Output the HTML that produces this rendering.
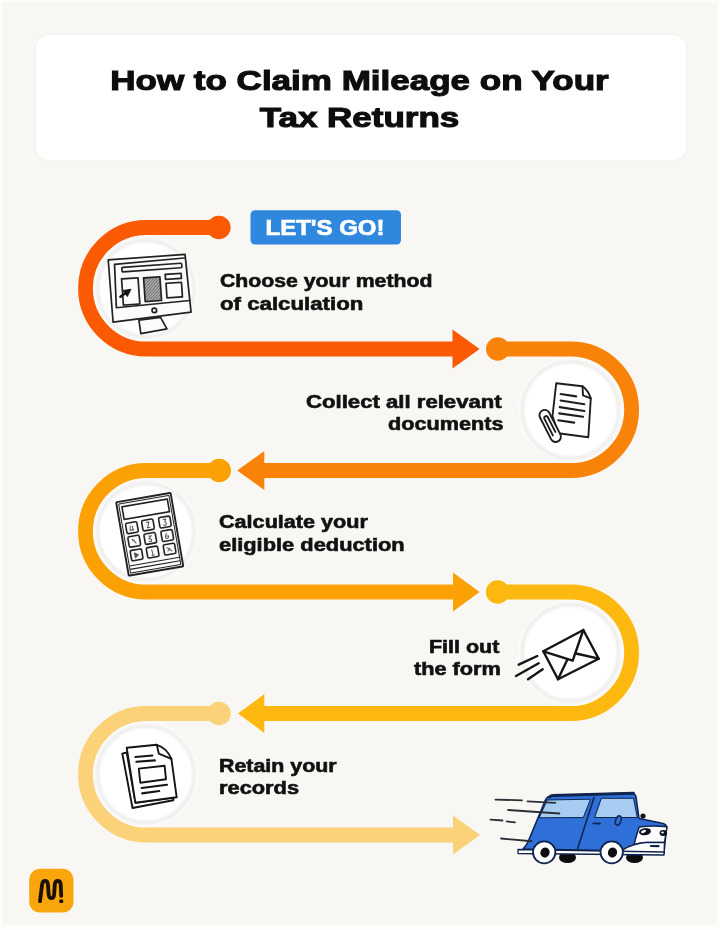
<!DOCTYPE html>
<html><head><meta charset="utf-8">
<style>
html,body{margin:0;padding:0;}
body{width:720px;height:930px;background:#fdfdfb;position:relative;overflow:hidden;font-family:"Liberation Sans",sans-serif;}
#bg{position:absolute;left:2px;top:2px;width:715px;height:923px;background:#f8f7f4;}
#title{position:absolute;left:36px;top:34.5px;width:650px;height:125px;background:#ffffff;border-radius:13px;box-shadow:0 0 3px rgba(0,0,0,0.05);}
.t{position:absolute;font-weight:bold;color:#111;white-space:nowrap;}
.ln{font-size:18px;line-height:20px;transform-origin:0 0;-webkit-text-stroke:0.6px #111;}
.l{transform-origin:0 0;}
.r{transform-origin:100% 0;text-align:right;}
#svg{position:absolute;left:0;top:0;}
</style></head>
<body>
<div id="bg"></div>
<div id="title"></div>
<div class="t" style="left:0;top:63px;width:719px;text-align:center;font-size:28px;line-height:36.7px;transform:scaleX(1.25);-webkit-text-stroke:1.1px #0d0d0d;color:#0d0d0d;">How to Claim Mileage on Your<br>Tax Returns</div>

<svg id="svg" width="720" height="930" viewBox="0 0 720 930">
  <!-- icon circles -->
  <defs><filter id="soft" x="-20%" y="-20%" width="140%" height="140%"><feGaussianBlur stdDeviation="1.3"/></filter></defs>
  <g fill="#fbfaf8">
    <circle cx="145.8" cy="288.5" r="53"/>
    <circle cx="570.5" cy="410" r="53"/>
    <circle cx="145.8" cy="531.5" r="53"/>
    <circle cx="570.5" cy="652.8" r="53"/>
    <circle cx="145.8" cy="774.3" r="53"/>
  </g>
  <g fill="#ffffff" stroke="#eeeeed" stroke-width="3.5" filter="url(#soft)">
    <circle cx="145.8" cy="288.5" r="48"/>
    <circle cx="570.5" cy="410" r="48"/>
    <circle cx="145.8" cy="531.5" r="48"/>
    <circle cx="570.5" cy="652.8" r="48"/>
    <circle cx="145.8" cy="774.3" r="48"/>
  </g>
  <!-- path segments -->
  <g fill="none" stroke-width="14.8">
    <path stroke="#fb5902" d="M218.8 227.5 H146.25 A60.75 60.75 0 0 0 146.25 349 H454"/>
    <path stroke="#f98208" d="M497.8 349 H570.85 A60.75 60.75 0 0 1 570.85 470.5 H262"/>
    <path stroke="#fca104" d="M219.2 470.5 H146.25 A60.75 60.75 0 0 0 146.25 592 H454"/>
    <path stroke="#fdb90f" d="M497.6 592 H570.85 A60.75 60.75 0 0 1 570.85 713.5 H262"/>
    <path stroke="#fbd277" d="M219 713.5 H146.25 A60.75 60.75 0 0 0 146.25 835 H454"/>
  </g>
  <g>
    <circle cx="218.8" cy="227.5" r="11.8" fill="#fb5902"/>
    <polygon points="452.5,329.5 479.6,349 452.5,368.5" fill="#fb5902"/>
    <circle cx="497.8" cy="349" r="11.8" fill="#f98208"/>
    <polygon points="264.3,451 237.2,470.5 264.3,490" fill="#f98208"/>
    <circle cx="219.2" cy="470.5" r="11.8" fill="#fca104"/>
    <polygon points="453,572.5 479.6,592 453,611.5" fill="#fca104"/>
    <circle cx="497.6" cy="592" r="11.8" fill="#fdb90f"/>
    <polygon points="264.3,694 238,713.5 264.3,733" fill="#fdb90f"/>
    <circle cx="219" cy="713.5" r="11.8" fill="#fbd277"/>
    <polygon points="453,815.5 480,835 453,854.5" fill="#fbd277"/>
  </g>

  <!-- ICON 1: monitor -->
  <defs>
    <pattern id="hatch" width="2.2" height="2.2" patternUnits="userSpaceOnUse" patternTransform="rotate(45)">
      <rect width="2.2" height="2.2" fill="#aaaaaa"/>
      <line x1="0" y1="0" x2="0" y2="2.2" stroke="#4a4a4a" stroke-width="1"/>
    </pattern>
  </defs>
  <g transform="translate(108.2 259.8) rotate(-4)" fill="none" stroke="#222" stroke-width="1.7" stroke-linejoin="round" stroke-linecap="round">
    <path d="M0 0 L77 0 L79 58 L0.5 62.5 Z" fill="#fbfbfb"/>
    <path d="M6 5 L76 3.5 M6 5 L4.8 48.4 L78.5 46.3"/>
    <rect x="13" y="8.5" width="60" height="4.5" rx="1"/>
    <rect x="12" y="20" width="16.5" height="26.3"/>
    <rect x="34" y="20.5" width="16.4" height="23.8" fill="url(#hatch)"/>
    <rect x="55.8" y="18.6" width="16" height="5"/>
    <rect x="56" y="27.5" width="15.5" height="14.6"/>
    <circle cx="42.5" cy="53.7" r="2.3"/>
    <path d="M26.4 62.3 L48.2 61 L53.8 73 L27.4 76 Z" fill="#fbfbfb"/>
    <path d="M20.5 31 L16.5 37.7 L12.7 31.7 Z" fill="#111" stroke-width="1.2"/><path d="M14.6 34.7 L9.6 37.8" stroke="#111" stroke-width="2.4"/>
  </g>

  <!-- ICON 2: document + clip -->
  <g fill="none" stroke="#1e1e1e" stroke-width="1.9" stroke-linejoin="round" stroke-linecap="round">
    <path d="M556.2 383.3 L582.5 386.2 Q588 390 590.8 398.3 L588.3 437.2 L558.2 433.3 L552.5 416 Z" fill="#ffffff"/>
    <path d="M582.5 386.2 L583 395.4 L590.8 398.3" />
    <path d="M560.6 394 L576.2 396.4 M560.6 400.5 L584.4 404.2 M559.7 407.1 L584.4 411 M559.2 413.4 L583 416.8 M558.2 420.2 L574.2 422.6" stroke-width="2.1"/>
    <g transform="translate(542.3 410.5) rotate(-27)">
      <path d="M5.2 14 V29.5 A5.2 5.2 0 0 1 -5.2 29.5 V5.2 A5.2 5.2 0 0 1 5.2 5.2 V14" fill="#fff"/>
      <path d="M-1.9 27 V8.5 A1.9 1.9 0 0 1 1.9 8.5 V25"/>
    </g>
  </g>

  <!-- ICON 3: calculator -->
  <g transform="translate(116.1 502.3) rotate(-9.8)" fill="none" stroke="#222" stroke-width="1.9" stroke-linejoin="round">
    <rect x="0" y="0" width="55.3" height="74.5" rx="1" fill="#fbfbfb"/>
    <rect x="2.2" y="2.2" width="51" height="70" rx="0.5" stroke-width="1"/>
    <rect x="5" y="5.5" width="46" height="12.8" fill="#fff" stroke-width="1.6"/>
    <g stroke-width="1.6">
      <rect x="5.5" y="22.5" width="11.5" height="10.5" rx="1.5"/>
      <rect x="21.8" y="22.5" width="11.5" height="10.5" rx="1.5"/>
      <rect x="39" y="22.5" width="11.5" height="10.5" rx="1.5"/>
      <rect x="5.5" y="36.2" width="11.5" height="10.5" rx="1.5"/>
      <rect x="21.8" y="36.2" width="11.5" height="10.5" rx="1.5"/>
      <rect x="39" y="36.2" width="11.5" height="10.5" rx="1.5"/>
      <rect x="5.5" y="50" width="11.5" height="10.5" rx="1.5"/>
      <rect x="21.8" y="50" width="11.5" height="10.5" rx="1.5"/>
      <rect x="39" y="50" width="11.5" height="10.5" rx="1.5"/>
    </g>
    <path d="M2.5 65 H53 M2.5 68.5 H53" stroke-width="1.1"/>
    <g stroke="#555" stroke-width="1">
      <path d="M10 25.5 L9 30 H13 M12 26 V31"/>
      <path d="M26 25 H29 L26.5 30.5 H29.5"/>
      <path d="M43 25 H46 L44.5 27.5 Q47 28.5 45 31 L42.5 30.5"/>
      <path d="M9.5 39 L13 44 M9.5 40.5 H12"/>
      <path d="M26 39 H29 L26 41.5 Q30 42 28 44.5 L25.5 44"/>
      <path d="M45 39 Q42 41 43 44 Q46 45 46 42 L43.5 42"/>
      <path d="M9.5 53 L13 55.5 L9.5 58 Z" fill="#555"/>
      <path d="M27 52.5 L27.5 58.5 M26 58.5 H29"/>
      <path d="M42 53 L47 57.5 M42.5 57 L45.5 54"/>
    </g>
  </g>

  <!-- ICON 4: envelope -->
  <g fill="none" stroke="#151515" stroke-width="2.4" stroke-linejoin="round" stroke-linecap="round">
    <path d="M543.3 651.3 L583.3 630 L598.7 658.7 L558 679.3 Z" fill="#fff"/>
    <path d="M543.3 651.3 L572.7 660.7 L583.3 630"/>
    <path d="M558 679.3 L567.5 659.3 M598.7 658.7 L576 653.5"/>
    <path d="M518.7 664.7 L537.3 656 M516 676 L538.7 663.3 M528 679.3 L542.7 669.3"/>
  </g>

  <!-- ICON 5: records -->
  <g fill="none" stroke="#151515" stroke-width="1.9" stroke-linejoin="round" stroke-linecap="round">
    <path d="M122.3 753.6 L126.7 752.5 L135.4 802.7 L173.3 797.5 L173.3 800.2 L132.5 808 Z" fill="#fff"/>
    <path d="M126.7 747.7 L156.8 744.8 Q167 748 171.4 758.9 L176.7 797.3 L135.4 802.7 Z" fill="#fff"/>
    <path d="M156.8 744.8 L158.8 753.6 L171.4 758.9"/>
    <path d="M135.4 757 L152.4 755.5 M136.4 761.8 L154.9 760.4 M141.7 788 L167 784.7 M142.2 793.4 L159.2 791" stroke-width="2.1"/>
    <path d="M138.8 768.6 L164.6 765.7 L166 779.3 L140.3 782.7 Z"/>
  </g>


  <!-- CAR -->
  <g stroke-linecap="round" stroke-linejoin="round">
    <ellipse cx="567.5" cy="857.5" rx="8.5" ry="5.5" fill="#0c0c10"/>
    <ellipse cx="634.5" cy="857.5" rx="8.5" ry="5.5" fill="#0c0c10"/>
    <path d="M552 795.5 Q547 796 545 801 L528 842 Q526 846 523 849 L664 851.5 L666.5 828 Q667 824 661 823 L639 818.5 L636 797 Q635 793 631 793 Z" fill="#2e6fd8" stroke="#10244f" stroke-width="1.6"/>
    <path d="M550 797 Q551 795.6 553 795.6 L633.3 793.3" stroke="#10244f" stroke-width="3" fill="none"/>
    <path d="M547.5 800 L590.5 799.2 L583.3 817.5 L539.5 817.8 Z" fill="#a6ccf2" stroke="#10244f" stroke-width="1"/>
    <path d="M601.7 798.3 L633.5 798.3 L637.3 817.5 L595 817.5 Z" fill="#a6ccf2" stroke="#10244f" stroke-width="1"/>
    <path d="M594 797.5 L577.5 849" stroke="#10244f" stroke-width="1.6" fill="none"/>
    <path d="M593.3 823.3 L600 823.6" stroke="#10244f" stroke-width="1.8" fill="none"/>
    <ellipse cx="618.3" cy="820.5" rx="2.6" ry="4.8" transform="rotate(20 618.3 820.5)" fill="#2e6fd8" stroke="#10244f" stroke-width="1.5"/>
    <circle cx="643" cy="816" r="2.6" fill="#10141f"/>
    <path d="M639.2 827 Q652 825 667 826.7 L664.5 842.5 L645.8 842.5 Q640 843 634 844.8 Q636 836 639.2 827 Z" fill="#ffffff" stroke="#10244f" stroke-width="1.5"/>
    <path d="M622.5 850 Q628 846.5 634 844.8 Q640 842.8 645.8 842.5 L664.5 842.5 L664.2 853.5 L622.5 854 Z" fill="#ffffff" stroke="#10244f" stroke-width="1.5"/>
    <path d="M651 846 L658.5 846.2" stroke="#10244f" stroke-width="2.2" fill="none"/>
    <ellipse cx="645" cy="831.7" rx="6" ry="3.6" transform="rotate(-8 645 831.7)" fill="#0d1220"/>
    <ellipse cx="643.5" cy="831.5" rx="2.6" ry="1.4" transform="rotate(-20 643.5 831.5)" fill="#ffffff"/>
    <ellipse cx="663.3" cy="832.9" rx="3.8" ry="3" fill="#0d1220"/>
    <ellipse cx="662.5" cy="832.6" rx="1.4" ry="1" fill="#ffffff"/>
    <path d="M518 849.5 L664 852 L664 855 L518 853.5 Z" fill="#ffffff" stroke="#10244f" stroke-width="1.3"/>
    <ellipse cx="544.2" cy="852.3" rx="11.2" ry="11" fill="#ffffff" stroke="#10244f" stroke-width="1.8"/>
    <ellipse cx="545" cy="852.5" rx="4.6" ry="5" transform="rotate(20 545 852.5)" fill="#0d0d12"/>
    <ellipse cx="611.7" cy="852.3" rx="11.2" ry="11" fill="#ffffff" stroke="#10244f" stroke-width="1.8"/>
    <ellipse cx="612.5" cy="852.5" rx="4.6" ry="5" transform="rotate(20 612.5 852.5)" fill="#0d0d12"/>
    <g fill="none" stroke="#2b2e36" stroke-width="1.8">
      <path d="M495.5 799.6 L522 800.3 M527.5 801.4 L555.3 802.8"/>
      <path d="M508 810 L559.4 813.5"/>
      <path d="M490.5 819.7 L502.5 820.5 M506.7 821.4 L515 822.4"/>
      <path d="M501 838.5 L531.7 841.25"/>
    </g>
  </g>
  <!-- badge -->
  <rect x="250.5" y="210.2" width="150.5" height="34.4" rx="4.5" fill="#2f88dd"/>
  <!-- logo -->
  <rect x="29.2" y="868.8" width="44.3" height="43.8" rx="10.5" fill="#f9a60c"/>
  <path d="M40 901.2 L42.1 884.5 Q42.6 880.9 45 880.9 Q47.6 880.9 47.9 884.5 L48.7 894.8 Q49.1 898.1 51.4 898.1 Q53.8 898.1 54.1 894.8 L54.8 884.5 Q55.2 880.9 57.8 880.9 Q60.4 880.9 60.7 884.5 L61.2 895.8" fill="none" stroke="#1a1008" stroke-width="3.8" stroke-linecap="round" stroke-linejoin="round"/>
  <rect x="59.3" y="899.4" width="3.9" height="3.6" rx="1" fill="#1a1008"/>
</svg>

<div class="t" style="left:249px;top:210px;width:152px;height:34px;line-height:35.5px;text-align:center;font-size:22.5px;color:#fff;transform:scaleX(1.065);-webkit-text-stroke:0.7px #fff;">LET'S GO!</div>


<!--STEPTEXT-->
<div class="t ln" style="left:220.00px;top:270.5px;transform:scaleX(1.1798);">Choose your method</div>
<div class="t ln" style="left:219.50px;top:294.2px;transform:scaleX(1.2351);">of calculation</div>
<div class="t ln" style="left:306.00px;top:391.5px;transform:scaleX(1.2303);">Collect all relevant</div>
<div class="t ln" style="left:388.00px;top:414.2px;transform:scaleX(1.2021);">documents</div>
<div class="t ln" style="left:218.50px;top:511.5px;transform:scaleX(1.2000);">Calculate your</div>
<div class="t ln" style="left:218.50px;top:535.2px;transform:scaleX(1.2132);">eligible deduction</div>
<div class="t ln" style="left:429.00px;top:636.5px;transform:scaleX(1.1932);">Fill out</div>
<div class="t ln" style="left:413.50px;top:659.2px;transform:scaleX(1.2057);">the form</div>
<div class="t ln" style="left:218.50px;top:756.3px;transform:scaleX(1.1878);">Retain your</div>
<div class="t ln" style="left:218.50px;top:778px;transform:scaleX(1.2124);">records</div>
<!--/STEPTEXT-->
</body></html>
